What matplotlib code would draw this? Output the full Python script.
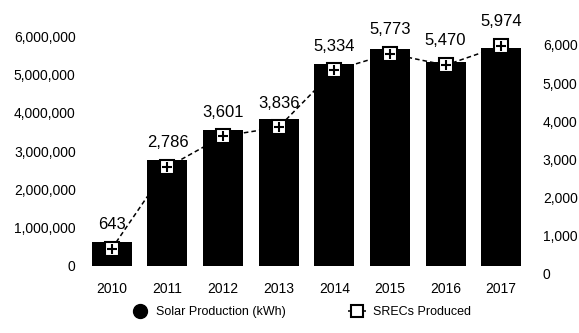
"""Solar production (kWh) with SRECs produced per year, twin-axis bar/line chart."""

import matplotlib

matplotlib.use("Agg")
import matplotlib.pyplot as plt
from matplotlib.lines import Line2D
from matplotlib.ticker import FuncFormatter

years = ["2010", "2011", "2012", "2013", "2014", "2015", "2016", "2017"]
production_kwh = [620000, 2770000, 3560000, 3830000, 5260000, 5650000, 5330000, 5700000]
srecs = [643, 2786, 3601, 3836, 5334, 5773, 5470, 5974]

plt.rcParams["font.family"] = ["Liberation Sans", "DejaVu Sans"]

W, H = 579, 333
fig = plt.figure(figsize=(W / 100, H / 100), dpi=100)

# axes box in pixel terms: x 84..529, y 10..274 (from top)
ax = fig.add_axes([84 / W, 1 - 274 / H, (529 - 84) / W, (274 - 10) / H])
x = list(range(len(years)))

ax.bar(x, production_kwh, width=0.72, color="black", zorder=2)
ax.set_xlim(-0.5, len(years) - 0.5)
ax.set_ylim(-0.209e6, 6.679e6)
ax.set_yticks(range(0, 6000001, 1000000))
ax.yaxis.set_major_formatter(FuncFormatter(lambda v, _: f"{int(v):,}"))
ax.set_xticks(x)
ax.set_xticklabels(years)

ax2 = ax.twinx()
ax2.set_ylim(-26, 6921)
ax2.set_yticks(range(0, 6001, 1000))
ax2.yaxis.set_major_formatter(FuncFormatter(lambda v, _: f"{int(v):,}"))

ax2.plot(x, srecs, color="black", lw=1.1, ls=(0, (3, 2)), zorder=3)
ax2.plot(x, srecs, ls="none", marker="s", ms=10, mfc="white", mec="black", mew=1.5, zorder=4)
ax2.plot(x, srecs, ls="none", marker="+", ms=7, mec="black", mew=1.5, zorder=5)
for xi, v in zip(x, srecs):
    ax2.annotate(f"{v:,}", (xi, v), xytext=(0, 12), textcoords="offset points",
                 ha="center", va="bottom", fontsize=12)

for a in (ax, ax2):
    for s in a.spines.values():
        s.set_visible(False)
    a.tick_params(length=0, labelsize=10, colors="black")
ax.tick_params(axis="y", pad=6)
ax.tick_params(axis="x", pad=6)
ax2.tick_params(axis="y", pad=10)

handles = [
    Line2D([], [], ls="none", marker="o", ms=10, color="black"),
    Line2D([], [], color="black", lw=1.1, ls=(0, (3, 2)), marker="s", ms=9,
           mfc="white", mec="black", mew=1.5),
]
fig.legend(handles, ["Solar Production (kWh)", "SRECs Produced"], loc="lower center",
           bbox_to_anchor=(0.52, 0.01), ncol=2, frameon=False, fontsize=9,
           columnspacing=5, handlelength=1.4, handletextpad=0.6)

fig.savefig("out.png", dpi=100)
